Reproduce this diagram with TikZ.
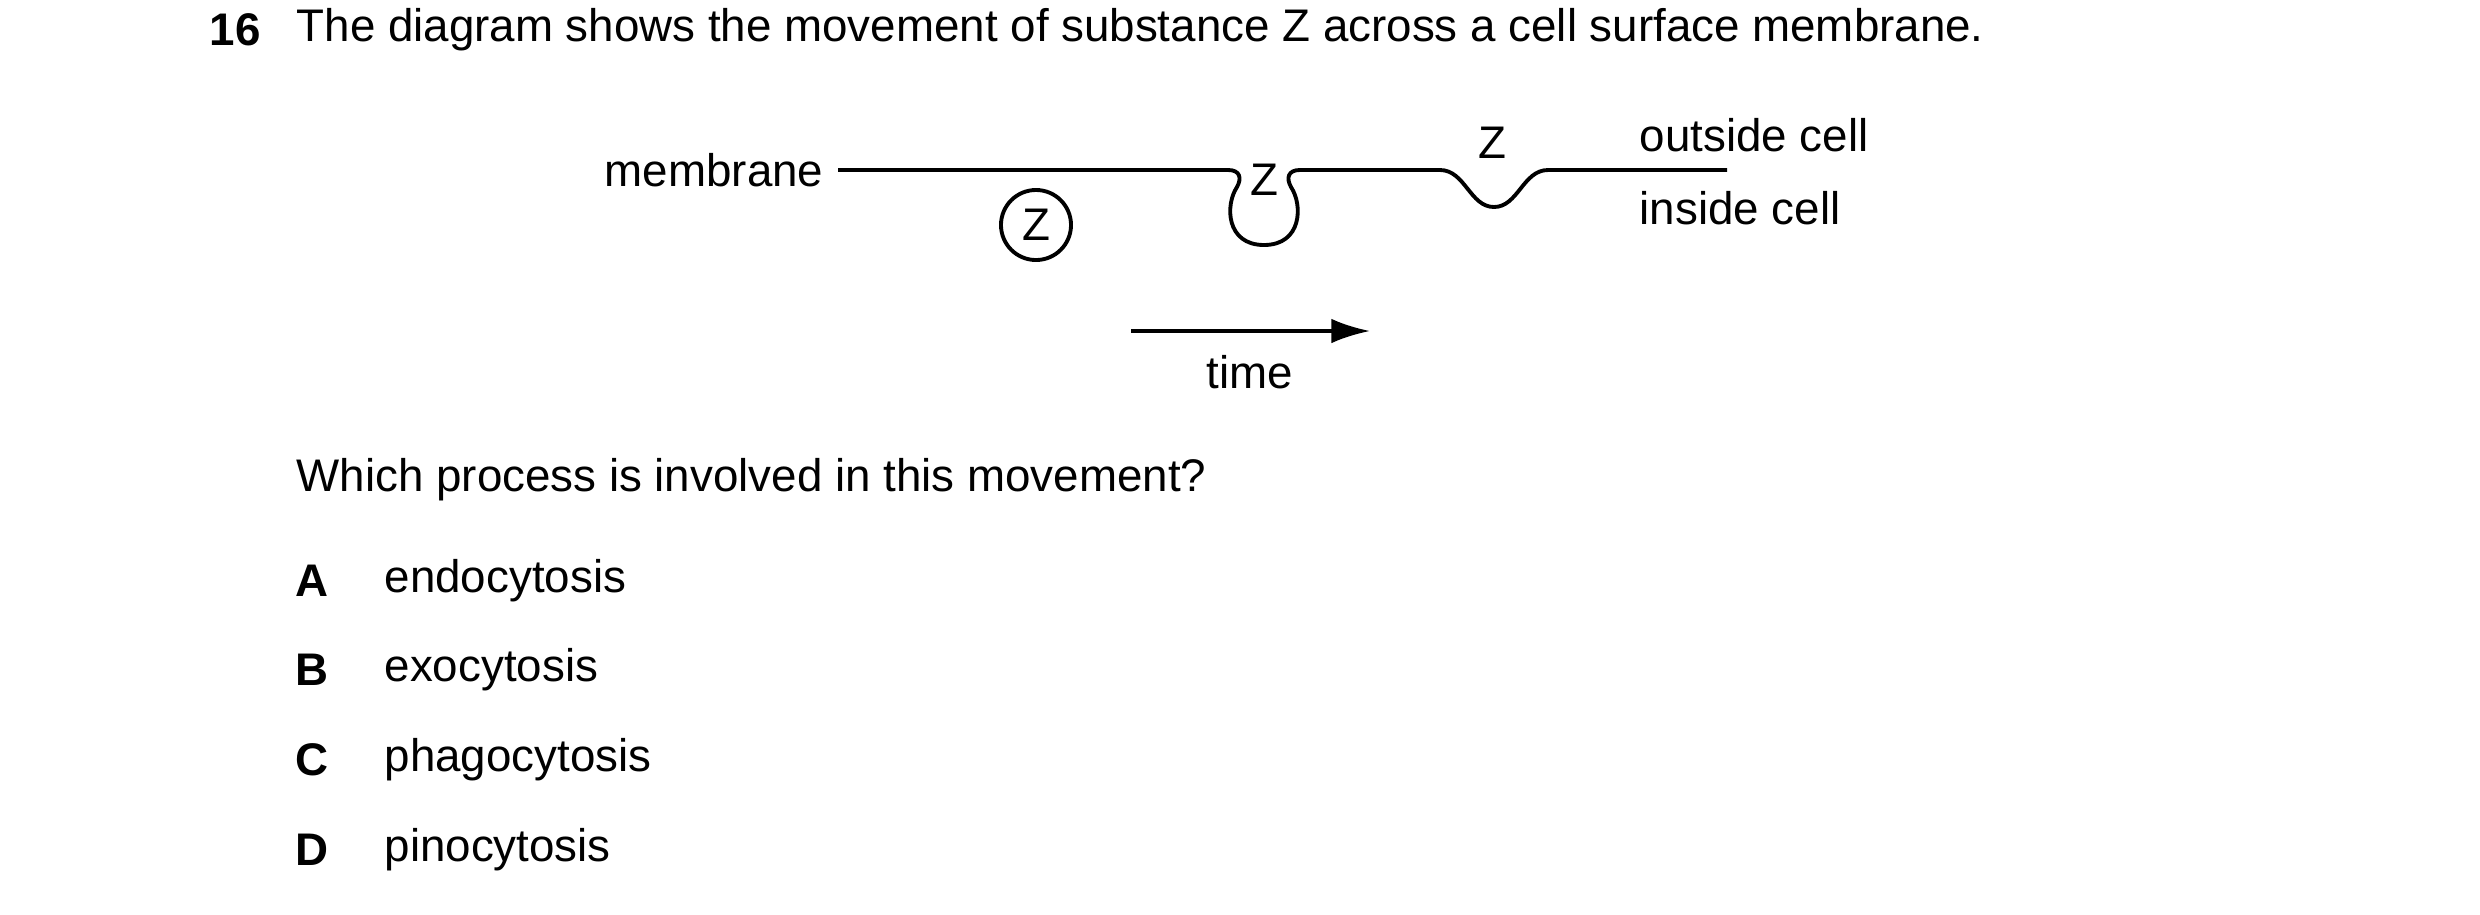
\documentclass[tikz,border=0pt]{standalone}
\usepackage{fontspec}
\setmainfont{Liberation Sans}
\usetikzlibrary{positioning,arrows.meta}

\begin{document}
\begin{tikzpicture}[
    x=0.01cm, y=-0.01cm,
    txt/.style={font=\fontsize{13}{15}\selectfont, inner sep=0pt},
    opt/.style={txt, anchor=west},
    key/.style={txt, font=\fontsize{13}{15}\selectfont\bfseries, anchor=center},
    memb/.style={line width=1.1pt},
]
\useasboundingbox (0,0) rectangle (2480,914);

%question
\node[key, anchor=west] (num) at (209,30) {16};
\node[opt] (stem) at (296,30) {The diagram shows the movement of substance Z across a cell surface membrane.};

%membrane
\coordinate (mL) at (838,170);
\coordinate (mR) at (1727,170);
\draw[memb] (mL) -- (1228,170)
    .. controls (1240,170) and (1242,178) .. (1237,187)
    .. controls (1225,205) and (1226,245) .. (1264,245)
    .. controls (1302,245) and (1303,205) .. (1291,187)
    .. controls (1286,178) and (1288,170) .. (1300,170)
    -- (1440,170)
    .. controls (1465,170) and (1470,207) .. (1494,207)
    .. controls (1518,207) and (1523,170) .. (1548,170)
    -- (mR);
\node[txt, anchor=east, left=14 of mL] (membrane) {membrane};
\node[opt] (outside) at (1639,135) {outside cell};
\node[opt] (inside) at (1639,208) {inside cell};

%substance Z
\node[txt, draw, circle, memb, minimum size=0.7cm] (zfree) at (1036,225) {Z};
\node[txt] (zves) at (1264,180) {Z};
\node[txt] (zout) at (1492,143) {Z};

%time
\coordinate (t0) at (1131,331);
\coordinate (t1) at (1370,331);
\draw[line width=1pt, -{Latex[length=11pt,width=7pt]}] (t0) -- (t1);
\node[txt] (time) at (1250,372) {time};

%answers
\node[opt] (which) at (296,480) {Which process is involved in this movement?};
\foreach \k/\t/\y in {A/endocytosis/581, B/exocytosis/670, C/phagocytosis/760, D/pinocytosis/850}{
    \node[key] (k\k) at (312,\y) {\k};
    \node[opt] (o\k) at (384,\y) {\t};
}
\end{tikzpicture}
\end{document}
